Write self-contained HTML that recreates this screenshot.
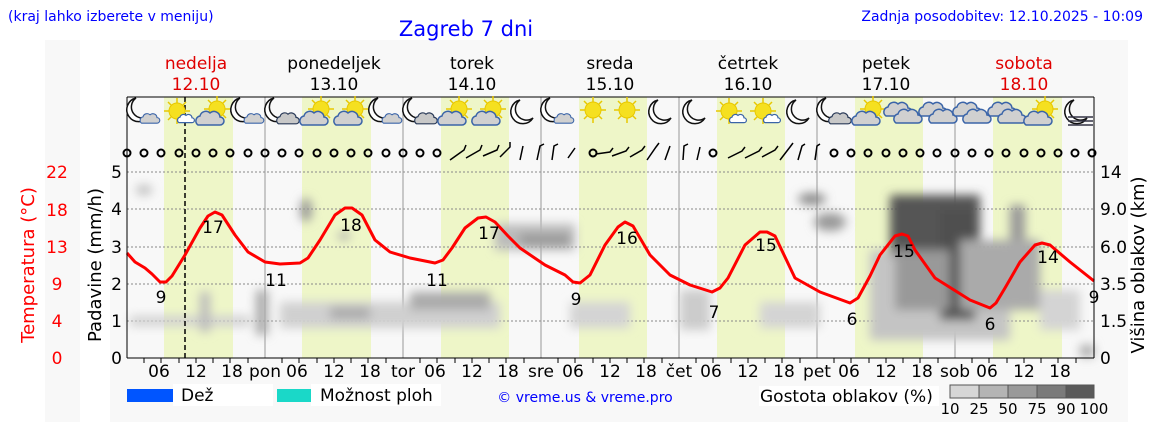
<!DOCTYPE html><html><head><meta charset="utf-8"><style>
body{margin:0;width:1152px;height:443px;background:#fff;overflow:hidden;font-family:"Liberation Sans","DejaVu Sans",sans-serif}
svg text{font-family:"DejaVu Sans","Liberation Sans",sans-serif}
</style></head><body>
<svg width="1152" height="443" xmlns="http://www.w3.org/2000/svg">
<defs>
<filter id="b" x="-50%" y="-50%" width="200%" height="200%"><feGaussianBlur stdDeviation="5"/></filter>
<g id="moon"><path d="M-4,-13 A12,12 0 1,0 9,5 A10,10 0 0,1 -4,-13 Z" fill="#fff" stroke="#111" stroke-width="1.5"/></g>
<g id="sun"><g stroke="#e8c800" stroke-width="1.5"><line x1="-13" y1="0" x2="13" y2="0"/><line x1="0" y1="-13" x2="0" y2="13"/><line x1="-9" y1="-9" x2="9" y2="9"/><line x1="-9" y1="9" x2="9" y2="-9"/></g><circle r="8" fill="#f5e020" stroke="#e8c800"/></g>
<g id="cloud"><path d="M-12,6 a5,5 0 0,1 2,-9 a6,6 0 0,1 10,-3 a6,6 0 0,1 10,4 a4,4 0 0,1 0,8 Z" fill="#d0d0d0" stroke="#3a64a8" stroke-width="1.5"/></g>
<g id="gcloud"><path d="M-12,6 a5,5 0 0,1 2,-9 a6,6 0 0,1 10,-3 a6,6 0 0,1 10,4 a4,4 0 0,1 0,8 Z" fill="#c8c8c8" stroke="#2a3a58" stroke-width="1.5"/></g>
<g id="mc"><use href="#moon" x="-4" y="-2"/><g transform="translate(6,6) scale(0.7)"><use href="#cloud"/></g></g>
<g id="mgc"><use href="#moon" x="-4" y="-2"/><g transform="translate(6,6) scale(0.8)"><use href="#gcloud"/></g></g>
<g id="sc"><use href="#sun" x="4" y="-4"/><g transform="translate(-3,6)"><use href="#cloud"/></g></g>
<g id="ssc"><use href="#sun" x="-2" y="-2"/><g transform="translate(7,6) scale(0.6)"><path d="M-12,6 a5,5 0 0,1 2,-9 a6,6 0 0,1 10,-3 a6,6 0 0,1 10,4 a4,4 0 0,1 0,8 Z" fill="#fff" stroke="#3a64a8" stroke-width="2"/></g></g>
<g id="cc"><g transform="translate(-5,-3)"><use href="#cloud"/></g><g transform="translate(5,4)"><use href="#cloud"/></g></g>
</defs>
<rect x="45" y="40" width="35" height="382" fill="#f8f8f8"/>
<rect x="110" y="40" width="1018" height="382" fill="#f8f8f8"/>
<text x="8" y="21" font-size="14" fill="#0000ff">(kraj lahko izberete v meniju)</text>
<text x="466" y="36" font-size="21" fill="#0000ff" text-anchor="middle">Zagreb 7 dni</text>
<text x="1143" y="21" font-size="14" fill="#0000ff" text-anchor="end">Zadnja posodobitev: 12.10.2025 - 10:09</text>
<g font-size="17" text-anchor="middle">
<text x="196" y="69" fill="#e00000">nedelja</text><text x="196" y="90" fill="#e00000">12.10</text>
<text x="334" y="69">ponedeljek</text><text x="334" y="90">13.10</text>
<text x="472" y="69">torek</text><text x="472" y="90">14.10</text>
<text x="610" y="69">sreda</text><text x="610" y="90">15.10</text>
<text x="748" y="69">četrtek</text><text x="748" y="90">16.10</text>
<text x="886" y="69">petek</text><text x="886" y="90">17.10</text>
<text x="1024" y="69" fill="#e00000">sobota</text><text x="1024" y="90" fill="#e00000">18.10</text>
</g>
<g fill="#eef6c8">
<rect x="164" y="97" width="69" height="261"/><rect x="302" y="97" width="69" height="261"/><rect x="441" y="97" width="68" height="261"/><rect x="579" y="97" width="68" height="261"/><rect x="717" y="97" width="68" height="261"/><rect x="855" y="97" width="68" height="261"/><rect x="993" y="97" width="69" height="261"/>
</g>
<g stroke="#888" stroke-dasharray="2,2" stroke-width="1">
<line x1="127" x2="1094" y1="321" y2="321"/><line x1="127" x2="1094" y1="284" y2="284"/><line x1="127" x2="1094" y1="247" y2="247"/><line x1="127" x2="1094" y1="209" y2="209"/><line x1="127" x2="1094" y1="172" y2="172"/>
</g>
<g stroke="#999" stroke-width="1">
<line x1="265" x2="265" y1="97" y2="358"/><line x1="403" x2="403" y1="97" y2="358"/><line x1="541" x2="541" y1="97" y2="358"/><line x1="679" x2="679" y1="97" y2="358"/><line x1="817" x2="817" y1="97" y2="358"/><line x1="955" x2="955" y1="97" y2="358"/>
</g>
<g filter="url(#b)">
<ellipse cx="144" cy="190" rx="8" ry="5" fill="#bbb"/>
<ellipse cx="306" cy="210" rx="6" ry="12" fill="#999"/>
<ellipse cx="344" cy="236" rx="6" ry="4" fill="#aaa"/>
<rect x="130" y="316" width="120" height="10" fill="#d0d0d0"/>
<rect x="200" y="292" width="10" height="40" fill="#bbb"/>
<rect x="256" y="290" width="12" height="45" fill="#aaa"/>
<rect x="280" y="302" width="220" height="26" fill="#d0d0d0"/>
<rect x="330" y="307" width="40" height="12" fill="#aaa"/>
<rect x="410" y="292" width="80" height="18" fill="#aaa"/>
<rect x="495" y="224" width="80" height="26" fill="#bbb"/>
<rect x="520" y="234" width="50" height="12" fill="#999"/>
<rect x="570" y="302" width="60" height="26" fill="#d4d4d4"/>
<rect x="680" y="290" width="30" height="40" fill="#ccc"/>
<rect x="760" y="302" width="60" height="26" fill="#d4d4d4"/>
<ellipse cx="812" cy="199" rx="14" ry="6" fill="#888"/>
<ellipse cx="830" cy="222" rx="16" ry="9" fill="#999"/>
<rect x="870" y="250" width="140" height="90" fill="#c4c4c4"/>
<rect x="890" y="195" width="90" height="60" fill="#555"/>
<rect x="940" y="210" width="35" height="110" fill="#505050"/>
<rect x="895" y="250" width="55" height="60" fill="#999"/>
<rect x="1010" y="205" width="15" height="50" fill="#999"/>
<rect x="960" y="240" width="80" height="70" fill="#aaa"/>
<rect x="1040" y="290" width="40" height="40" fill="#d4d4d4"/>
<rect x="1080" y="345" width="14" height="12" fill="#aaa"/>
</g>
<line x1="185" x2="185" y1="97" y2="358" stroke="#000" stroke-dasharray="5,3" stroke-width="1.5"/>
<polyline fill="none" stroke="#ff0000" stroke-width="3" stroke-linejoin="round" points="127,253 135,262 145,268 152,274 160,282 166,282 172,276 185,255 200,228 208,216 215,212 222,215 235,235 248,252 265,262 280,264 300,263 308,258 320,240 335,215 345,208 352,208 362,215 375,240 390,252 410,258 435,263 443,260 452,248 465,228 478,218 486,217 495,222 508,236 520,248 545,265 565,275 573,282 580,283 590,275 605,245 618,227 625,222 633,226 650,255 670,275 690,285 712,292 720,288 728,278 745,245 760,232 767,232 775,236 795,278 820,292 850,303 858,298 870,276 880,255 895,236 902,234 908,236 915,250 935,278 970,300 990,308 996,303 1005,288 1020,262 1035,245 1042,243 1050,245 1070,262 1094,281"/>
<g font-size="17" text-anchor="middle">
<text x="161" y="303">9</text><text x="213" y="233">17</text><text x="276" y="286">11</text><text x="351" y="231">18</text><text x="437" y="286">11</text><text x="489" y="239">17</text><text x="576" y="305">9</text><text x="627" y="244">16</text><text x="714" y="318">7</text><text x="766" y="251">15</text><text x="852" y="325">6</text><text x="904" y="257">15</text><text x="990" y="330">6</text><text x="1048" y="263">14</text><text x="1094" y="303">9</text>
</g>
<line x1="127" x2="1094" y1="97" y2="97" stroke="#000"/>
<line x1="127" x2="127" y1="97" y2="358" stroke="#000"/>
<line x1="1094" x2="1094" y1="97" y2="358" stroke="#000"/>
<line x1="127" x2="1094" y1="358" y2="358" stroke="#000"/>
<g fill="none" stroke="#000" stroke-width="2">
<circle cx="127" cy="153" r="3.5"/><circle cx="144" cy="153" r="3.5"/><circle cx="161" cy="153" r="3.5"/><circle cx="179" cy="153" r="3.5"/><circle cx="196" cy="153" r="3.5"/><circle cx="213" cy="153" r="3.5"/><circle cx="230" cy="153" r="3.5"/><circle cx="248" cy="153" r="3.5"/><circle cx="265" cy="153" r="3.5"/><circle cx="282" cy="153" r="3.5"/><circle cx="299" cy="153" r="3.5"/><circle cx="317" cy="153" r="3.5"/><circle cx="334" cy="153" r="3.5"/><circle cx="351" cy="153" r="3.5"/><circle cx="368" cy="153" r="3.5"/><circle cx="386" cy="153" r="3.5"/><circle cx="403" cy="153" r="3.5"/><circle cx="420" cy="153" r="3.5"/><circle cx="437" cy="153" r="3.5"/>
<circle cx="593" cy="153" r="3.5"/><circle cx="713" cy="153" r="3.5"/><circle cx="834" cy="153" r="3.5"/><circle cx="851" cy="153" r="3.5"/><circle cx="868" cy="153" r="3.5"/><circle cx="886" cy="153" r="3.5"/><circle cx="903" cy="153" r="3.5"/><circle cx="920" cy="153" r="3.5"/><circle cx="937" cy="153" r="3.5"/><circle cx="955" cy="153" r="3.5"/><circle cx="972" cy="153" r="3.5"/><circle cx="989" cy="153" r="3.5"/><circle cx="1006" cy="153" r="3.5"/><circle cx="1024" cy="153" r="3.5"/><circle cx="1041" cy="153" r="3.5"/><circle cx="1058" cy="153" r="3.5"/><circle cx="1075" cy="153" r="3.5"/><circle cx="1092" cy="153" r="3.5"/>
</g>
<g stroke="#000" stroke-width="1.5" fill="none">
<path d="M450,160 L464,150 l2,-5 M466,158 L480,150 l2,-5 M483,156 L497,150 l2,-5 M500,157 L510,147 l0,-5 M520,160 L523,146 M537,160 L540,146 l4,-2 M552,160 L554,146 l4,-2 M568,158 L575,148"/>
<path d="M596,154 L610,152 l3,-4 M612,156 L626,151 l3,-4 M630,157 L642,150 l3,-4 M647,160 L656,147 l3,-4 M665,160 L670,146 M683,160 L684,146 l4,-2 M697,160 L700,147"/>
<path d="M728,158 L742,151 l3,-4 M745,158 L759,151 l3,-4 M762,157 L775,150 l3,-4 M780,160 L790,147 l3,-4 M798,160 L802,146 l3,-2 M815,160 L817,146 l3,-2"/>
</g>
<use href="#mc" x="144" y="113"/><use href="#ssc" x="179" y="113"/><use href="#sc" x="213" y="113"/><use href="#mc" x="248" y="113"/>
<use href="#mgc" x="282" y="113"/><use href="#sc" x="317" y="113"/><use href="#sc" x="351" y="113"/><use href="#mc" x="386" y="113"/>
<use href="#mgc" x="420" y="113"/><use href="#sc" x="455" y="113"/><use href="#sc" x="489" y="113"/><use href="#moon" x="524" y="113"/>
<use href="#mc" x="558" y="113"/><use href="#sun" x="593" y="110"/><use href="#sun" x="627" y="110"/><use href="#moon" x="662" y="113"/>
<use href="#moon" x="696" y="113"/><use href="#ssc" x="731" y="113"/><use href="#ssc" x="765" y="113"/><use href="#moon" x="800" y="113"/>
<use href="#mgc" x="834" y="113"/><use href="#sc" x="869" y="113"/><use href="#cc" x="903" y="113"/><use href="#cc" x="938" y="113"/>
<use href="#cc" x="972" y="113"/><use href="#cc" x="1007" y="113"/><use href="#sc" x="1041" y="113"/><use href="#moon" x="1078" y="113"/>
<g stroke="#334" stroke-width="1.5"><line x1="1068" y1="117" x2="1093" y2="117"/><line x1="1068" y1="121" x2="1093" y2="121"/><line x1="1068" y1="125" x2="1093" y2="125"/></g>
<g font-size="17" text-anchor="end">
<text x="122" y="364">0</text><text x="122" y="327">1</text><text x="122" y="290">2</text><text x="122" y="253">3</text><text x="122" y="215">4</text><text x="122" y="178">5</text>
</g>
<g font-size="17" text-anchor="middle" fill="#ff0000">
<text x="57" y="364">0</text><text x="57" y="327">4</text><text x="57" y="290">9</text><text x="57" y="253">13</text><text x="57" y="216">18</text><text x="57" y="178">22</text>
</g>
<g font-size="17">
<text x="1100" y="364">0</text><text x="1100" y="327">1.5</text><text x="1100" y="290">3.5</text><text x="1100" y="253">6.0</text><text x="1100" y="215">9.0</text><text x="1100" y="178">14</text>
</g>
<text transform="translate(101,265) rotate(-90)" font-size="18" text-anchor="middle">Padavine (mm/h)</text>
<text transform="translate(34,265) rotate(-90)" font-size="18" text-anchor="middle" fill="#ff0000">Temperatura (°C)</text>
<text transform="translate(1144,265) rotate(-90)" font-size="18" text-anchor="middle">Višina oblakov (km)</text>
<g font-size="17" text-anchor="middle">
<text x="159" y="377">06</text><text x="196" y="377">12</text><text x="232" y="377">18</text><text x="265" y="377">pon</text>
<text x="297" y="377">06</text><text x="334" y="377">12</text><text x="370" y="377">18</text><text x="403" y="377">tor</text>
<text x="435" y="377">06</text><text x="472" y="377">12</text><text x="508" y="377">18</text><text x="541" y="377">sre</text>
<text x="573" y="377">06</text><text x="610" y="377">12</text><text x="646" y="377">18</text><text x="679" y="377">čet</text>
<text x="711" y="377">06</text><text x="748" y="377">12</text><text x="784" y="377">18</text><text x="817" y="377">pet</text>
<text x="849" y="377">06</text><text x="886" y="377">12</text><text x="922" y="377">18</text><text x="955" y="377">sob</text>
<text x="987" y="377">06</text><text x="1024" y="377">12</text><text x="1060" y="377">18</text>
</g>
<g stroke="#000">
<path d="M144,358v5M161,358v5M179,358v5M196,358v5M213,358v5M230,358v5M248,358v5M282,358v5M299,358v5M317,358v5M334,358v5M351,358v5M368,358v5M386,358v5M420,358v5M437,358v5M455,358v5M472,358v5M489,358v5M506,358v5M524,358v5M558,358v5M575,358v5M593,358v5M610,358v5M627,358v5M644,358v5M662,358v5M696,358v5M713,358v5M731,358v5M748,358v5M765,358v5M782,358v5M800,358v5M834,358v5M851,358v5M869,358v5M886,358v5M903,358v5M920,358v5M938,358v5M972,358v5M989,358v5M1007,358v5M1024,358v5M1041,358v5M1058,358v5M1076,358v5"/>
</g>
<rect x="127" y="389" width="46" height="13" fill="#0055ff"/>
<rect x="173" y="384" width="100" height="22" fill="#fff"/>
<text x="181" y="401" font-size="17">Dež</text>
<rect x="277" y="389" width="34" height="13" fill="#1ad8c8"/>
<rect x="311" y="384" width="130" height="22" fill="#fff"/>
<text x="320" y="401" font-size="17">Možnost ploh</text>
<text x="585" y="402" font-size="14" fill="#0000ff" text-anchor="middle">© vreme.us &amp; vreme.pro</text>
<rect x="759" y="386" width="180" height="20" fill="#fff"/>
<text x="760" y="402" font-size="17">Gostota oblakov (%)</text>
<g stroke="#555" stroke-width="1">
<rect x="950" y="385" width="29" height="13" fill="#d6d6d6"/><rect x="979" y="385" width="29" height="13" fill="#b4b4b4"/><rect x="1008" y="385" width="29" height="13" fill="#999"/><rect x="1037" y="385" width="29" height="13" fill="#7a7a7a"/><rect x="1066" y="385" width="28" height="13" fill="#5a5a5a"/>
</g>
<g font-size="15" text-anchor="middle">
<text x="950" y="414">10</text><text x="979" y="414">25</text><text x="1008" y="414">50</text><text x="1037" y="414">75</text><text x="1066" y="414">90</text><text x="1094" y="414">100</text>
</g>
</svg>
</body></html>
